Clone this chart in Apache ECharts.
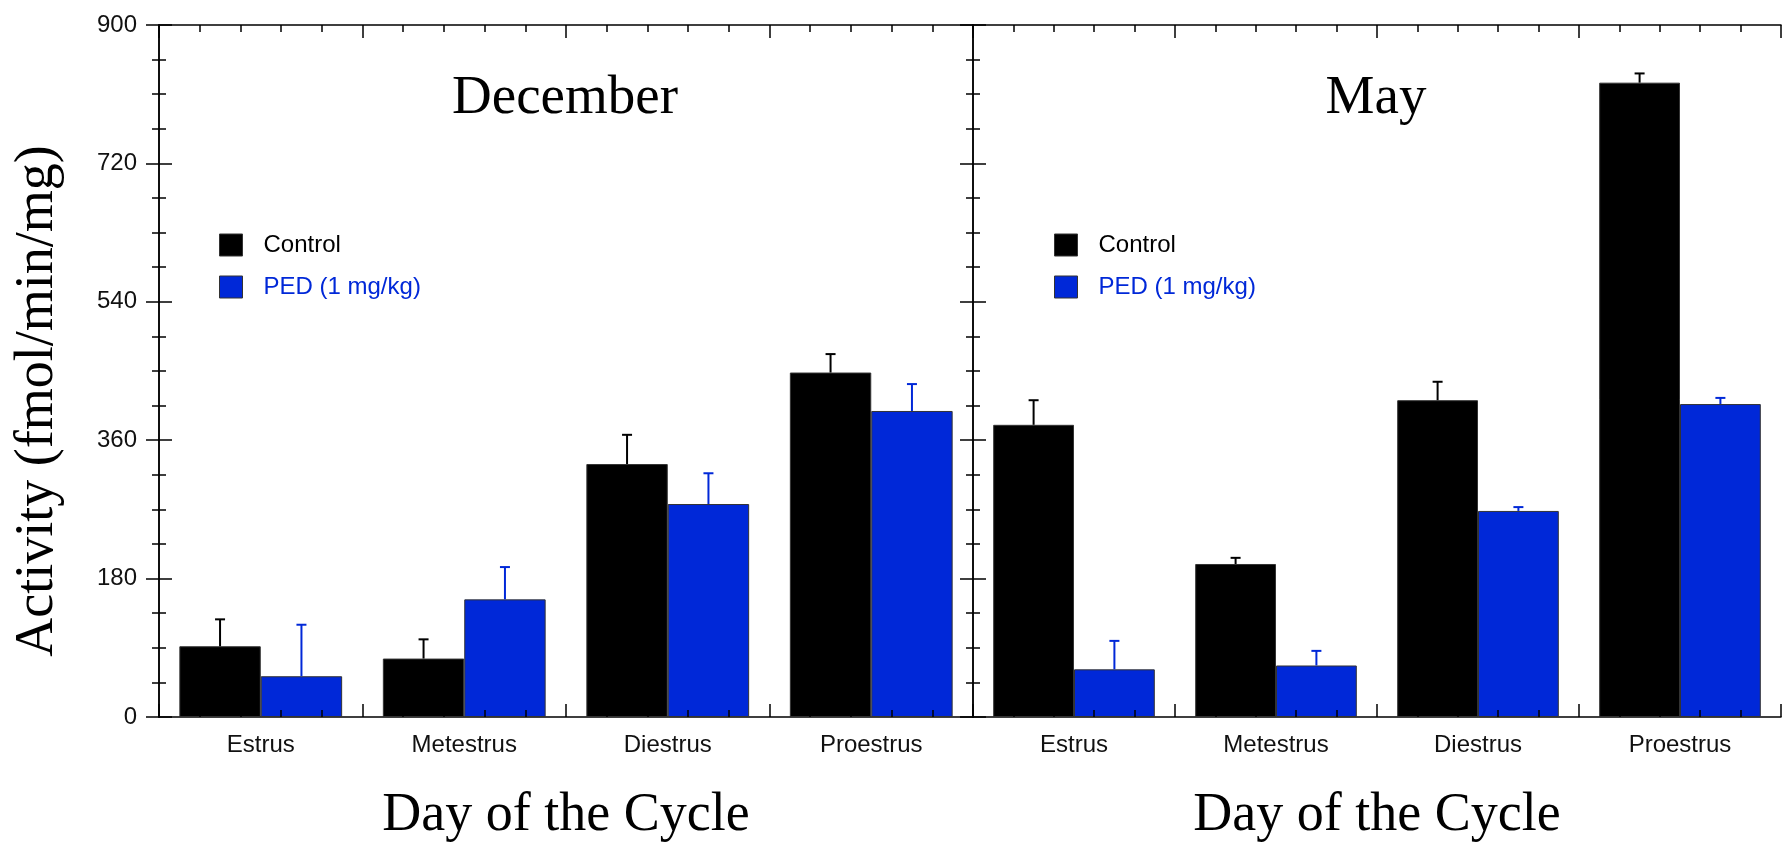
<!DOCTYPE html>
<html>
<head>
<meta charset="utf-8">
<script src="https://cdn.jsdelivr.net/npm/echarts@6/dist/echarts.min.js"></script>
<style>
html,body{margin:0;padding:0;background:#fff;}
#chart{width:1784px;height:848px;}
</style>
</head>
<body>
<div id="chart"></div>
<script>
// ---- data ----
const categories = ['Estrus', 'Metestrus', 'Diestrus', 'Proestrus'];
const yTicks = [0, 180, 360, 540, 720, 900];
const decControl = [92, 76, 329, 448];
const decControlSem = [35, 25, 38, 24];
const decPed = [53, 153, 277, 398];
const decPedSem = [67, 42, 40, 35];
const mayControl = [380, 199, 412, 825];
const mayControlSem = [32, 8, 24, 12];
const mayPed = [62, 67, 268, 407];
const mayPedSem = [37, 19, 5, 8];
const panelTitles = ['December', 'May'];
const seriesNames = ['Control', 'PED (1 mg/kg)'];

const BLACK = '#000000';
const BLUE = '#0028d8';
const serif = "'Liberation Serif', 'DejaVu Serif', serif";
const sans = "'Liberation Sans', Arial, sans-serif";

const chart = echarts.init(document.getElementById('chart'));

const grids = [
  {left: 159, top: 25, width: 814, bottom: 129},
  {left: 973, top: 25, width: 808, bottom: 129}
];

const xAxes = [];
const yAxes = [];
grids.forEach((g, gi) => {
  xAxes.push({
    type: 'category', gridIndex: gi, data: categories, position: 'bottom',
    axisLine: {show: true, lineStyle: {color: '#000', width: 1.5}},
    axisTick: {show: false},
    axisLabel: {fontFamily: sans, fontSize: 24, color: '#111', margin: 16},
    name: 'Day of the Cycle', nameLocation: 'middle', nameGap: 72,
    nameTextStyle: {fontFamily: serif, fontSize: 54, color: '#000'}
  });
  xAxes.push({
    type: 'value', gridIndex: gi, min: 0, max: 4, interval: 1, position: 'bottom', z: 5,
    axisLine: {show: false}, axisLabel: {show: false}, splitLine: {show: false},
    axisTick: {show: true, inside: true, length: 13, lineStyle: {color: '#000', width: 1.5}},
    minorTick: {show: true, splitNumber: 5, length: 7, lineStyle: {color: '#000', width: 1.5}}
  });
  xAxes.push({
    type: 'value', gridIndex: gi, min: 0, max: 4, interval: 1, position: 'top', z: 5,
    axisLine: {show: true, lineStyle: {color: '#000', width: 1.5}},
    axisLabel: {show: false}, splitLine: {show: false},
    axisTick: {show: true, inside: true, length: 13, lineStyle: {color: '#000', width: 1.5}},
    minorTick: {show: true, splitNumber: 5, length: 7, lineStyle: {color: '#000', width: 1.5}}
  });
  ['left', 'right'].forEach(pos => {
    yAxes.push({
      type: 'value', gridIndex: gi, min: 0, max: 900, interval: 180, position: pos, z: 5,
      axisLine: {show: true, lineStyle: {color: '#000', width: 1.5}},
      axisLabel: {show: gi === 0 && pos === 'left', fontFamily: sans, fontSize: 24, color: '#111', margin: 22,
        formatter: v => (yTicks.indexOf(v) >= 0 ? String(v) : '')},
      splitLine: {show: false},
      axisTick: {show: true, inside: true, length: 13, lineStyle: {color: '#000', width: 1.5}},
      minorTick: {show: true, splitNumber: 4, length: 7, lineStyle: {color: '#000', width: 1.5}}
    });
  });
});

function barSeries(name, data, color, gi) {
  return {
    type: 'bar', name: name, data: data,
    xAxisIndex: gi * 3, yAxisIndex: gi * 2,
    barCategoryGap: '20%', barGap: '0%',
    itemStyle: {color: color, borderColor: '#333', borderWidth: 1},
    z: 2
  };
}

function errSeries(values, sems, color, gi, offset) {
  return {
    type: 'custom', xAxisIndex: gi * 3, yAxisIndex: gi * 2, z: 4,
    silent: true,
    data: values.map((v, i) => [i, v, v + sems[i]]),
    encode: {x: 0, y: [1, 2]},
    renderItem: function (params, api) {
      const i = api.value(0);
      const p0 = api.coord([i, api.value(1)]);
      const p1 = api.coord([i, api.value(2)]);
      const band = api.size([1, 0])[0];
      const x = p0[0] + offset * band;
      const cap = 5;
      const style = {stroke: color, lineWidth: 2};
      return {
        type: 'group',
        children: [
          {type: 'line', shape: {x1: x, y1: p0[1], x2: x, y2: p1[1]}, style: style},
          {type: 'line', shape: {x1: x - cap, y1: p1[1], x2: x + cap, y2: p1[1]}, style: style}
        ]
      };
    }
  };
}

const series = [
  barSeries(seriesNames[0], decControl, BLACK, 0),
  barSeries(seriesNames[1], decPed, BLUE, 0),
  barSeries(seriesNames[0], mayControl, BLACK, 1),
  barSeries(seriesNames[1], mayPed, BLUE, 1),
  errSeries(decControl, decControlSem, BLACK, 0, -0.2),
  errSeries(decPed, decPedSem, BLUE, 0, 0.2),
  errSeries(mayControl, mayControlSem, BLACK, 1, -0.2),
  errSeries(mayPed, mayPedSem, BLUE, 1, 0.2)
];

function legendAt(left) {
  return {
    left: left, top: 228, orient: 'vertical',
    itemWidth: 23, itemHeight: 22, itemGap: 18, icon: 'rect',
    selectedMode: false,
    itemStyle: {borderColor: '#333', borderWidth: 1},
    data: [
      {name: seriesNames[0], textStyle: {color: '#000'}},
      {name: seriesNames[1], textStyle: {color: BLUE}}
    ],
    textStyle: {fontFamily: sans, fontSize: 24, padding: [0, 0, 0, 16]}
  };
}

chart.setOption({
  animation: false,
  backgroundColor: '#fff',
  grid: grids,
  xAxis: xAxes,
  yAxis: yAxes,
  legend: [legendAt(214), legendAt(1049)],
  title: panelTitles.map((t, i) => ({
    text: t,
    left: grids[i].left + grids[i].width / 2 - 6,
    textAlign: 'center',
    top: 66,
    textStyle: {fontFamily: serif, fontSize: 55, fontWeight: 'normal', color: '#000'}
  })),
  graphic: [{
    type: 'text', x: 38, y: 401, rotation: Math.PI / 2,
    style: {text: 'Activity (fmol/min/mg)', font: "54px 'Liberation Serif', serif",
      fill: '#000', textAlign: 'center', textVerticalAlign: 'middle'}
  }],
  series: series
});
</script>
</body>
</html>
